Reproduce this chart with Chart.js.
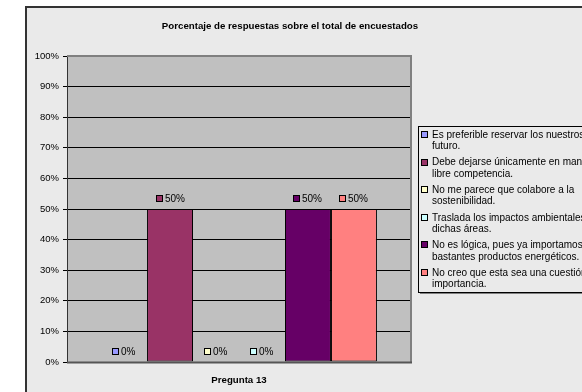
<!DOCTYPE html>
<html>
<head>
<meta charset="utf-8">
<script src="https://cdn.jsdelivr.net/npm/chart.js@4/dist/chart.umd.min.js"></script>
<style>
html,body{margin:0;padding:0;background:#fff;}
#wrap{width:582px;height:392px;position:relative;}
</style>
</head>
<body>
<div id="wrap"><canvas id="c" width="582" height="392"></canvas></div>
<script>
const chartTitle = "Porcentaje de respuestas sobre el total de encuestados";
const categories = ["Pregunta 13"];
const seriesNames = [
  ["Es preferible reservar los nuestros recursos para el", "futuro."],
  ["Debe dejarse únicamente en manos de la", "libre competencia."],
  ["No me parece que colabore a la", "sostenibilidad."],
  ["Traslada los impactos ambientales a", "dichas áreas."],
  ["No es lógica, pues ya importamos", "bastantes productos energéticos."],
  ["No creo que esta sea una cuestión de", "importancia."]
];
const seriesValues = [[0], [50], [0], [0], [50], [50]];
const seriesColors = ["#9999FF", "#993366", "#FFFFCC", "#CCFFFF", "#660066", "#FF8080"];
const yTicks = [0, 10, 20, 30, 40, 50, 60, 70, 80, 90, 100];

const FONT = "'Liberation Sans', Arial, sans-serif";

const frame = {
  id: 'frame',
  beforeDraw(chart) {
    const ctx = chart.ctx, a = chart.chartArea;
    ctx.save();
    ctx.fillStyle = '#fff';
    ctx.fillRect(0, 0, chart.width, chart.height);
    ctx.fillStyle = '#EAEAEA';
    ctx.fillRect(26, 7, chart.width, chart.height);
    ctx.strokeStyle = '#333';
    ctx.lineWidth = 2;
    ctx.strokeRect(26, 7, chart.width + 10, chart.height + 10);
    ctx.fillStyle = '#C0C0C0';
    ctx.fillRect(a.left, a.top, a.right - a.left, a.bottom - a.top);
    // title
    ctx.fillStyle = '#000';
    ctx.font = 'bold 9.7px ' + FONT;
    ctx.textAlign = 'center';
    ctx.textBaseline = 'middle';
    ctx.fillText(chartTitle, 290, 26);
    ctx.restore();
  },
  afterDatasetsDraw(chart) {
    const ctx = chart.ctx, a = chart.chartArea;
    ctx.save();
    // plot border right & top
    ctx.strokeStyle = '#808080';
    ctx.lineWidth = 2;
    ctx.beginPath();
    ctx.moveTo(a.left, a.top); ctx.lineTo(a.right, a.top); ctx.lineTo(a.right, a.bottom);
    ctx.stroke();
    ctx.strokeStyle = '#555';
    ctx.lineWidth = 2;
    ctx.beginPath();
    ctx.moveTo(a.left, a.bottom + 0.5); ctx.lineTo(a.right + 1, a.bottom + 0.5);
    ctx.stroke();
    // data labels
    ctx.font = '10px ' + FONT;
    ctx.textBaseline = 'middle';
    ctx.textAlign = 'left';
    chart.data.datasets.forEach((ds, i) => {
      const meta = chart.getDatasetMeta(i);
      meta.data.forEach((bar, j) => {
        const v = ds.data[j];
        const txt = v + '%';
        const tw = ctx.measureText(txt).width;
        const total = 6 + 3 + tw;
        const x0 = Math.round(bar.x - total / 2);
        const yc = Math.round(bar.y - 10);
        ctx.fillStyle = ds.backgroundColor;
        ctx.fillRect(x0 + 0.5, yc - 3.5, 6, 6);
        ctx.strokeStyle = '#000';
        ctx.lineWidth = 1;
        ctx.strokeRect(x0 + 0.5, yc - 3.5, 6, 6);
        ctx.fillStyle = '#000';
        ctx.fillText(txt, x0 + 9, yc);
      });
    });
    // legend
    const lx = 418, ly = 126, lh = 166;
    ctx.fillStyle = '#808080';
    ctx.fillRect(lx + 2, ly + lh, chart.width, 2);
    ctx.fillStyle = '#EAEAEA';
    ctx.fillRect(lx, ly, chart.width, lh);
    ctx.strokeStyle = '#000';
    ctx.lineWidth = 1;
    ctx.strokeRect(lx + 0.5, ly + 0.5, chart.width, lh);
    ctx.font = '10px ' + FONT;
    chart.data.datasets.forEach((ds, i) => {
      const y1 = 135 + i * 27.6;
      ctx.fillStyle = ds.backgroundColor;
      ctx.fillRect(421.5, Math.round(y1) - 3.5, 6, 6);
      ctx.strokeStyle = '#000';
      ctx.strokeRect(421.5, Math.round(y1) - 3.5, 6, 6);
      ctx.fillStyle = '#000';
      ds.label.forEach((line, k) => {
        ctx.fillText(line, 432, y1 + k * 11.5);
      });
    });
    ctx.restore();
  }
};

new Chart(document.getElementById('c'), {
  type: 'bar',
  data: {
    labels: categories,
    datasets: seriesValues.map((vals, i) => ({
      label: seriesNames[i],
      data: vals,
      backgroundColor: seriesColors[i],
      borderColor: '#000',
      borderWidth: 1,
      borderSkipped: false,
      categoryPercentage: 0.802,
      barPercentage: 1
    }))
  },
  options: {
    responsive: false,
    animation: false,
    devicePixelRatio: 1,
    layout: { padding: { left: 25, top: 56, right: 171, bottom: 0 } },
    plugins: { legend: { display: false }, title: { display: false }, tooltip: { enabled: false } },
    scales: {
      x: {
        grid: { display: false, drawTicks: false },
        border: { display: false },
        ticks: { color: '#000', font: { family: FONT, size: 9.7, weight: 'bold' }, padding: 13 },
        afterFit(s) { s.height = 30; }
      },
      y: {
        min: 0, max: 100,
        afterBuildTicks(s) { s.ticks = yTicks.map(v => ({ value: v })); },
        ticks: { color: '#000', font: { family: FONT, size: 9.5 }, padding: 4, callback: v => v + '%' },
        grid: {
          color: ctx => (ctx.tick && ctx.tick.value === 100) ? '#808080' : '#000',
          tickColor: '#000',
          tickLength: 4,
          lineWidth: 1
        },
        border: { display: true, color: '#333', width: 1 },
        afterFit(s) { s.width = 42; }
      }
    }
  },
  plugins: [frame]
});
</script>
</body>
</html>
